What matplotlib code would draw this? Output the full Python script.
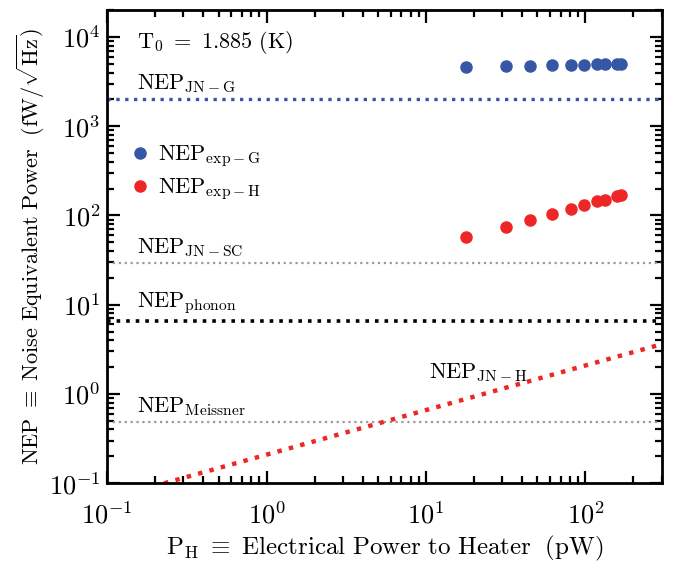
import numpy as np
from matplotlib import pyplot as plt
from matplotlib import transforms

plt.rcParams['mathtext.fontset'] = 'cm'
plt.rcParams['font.family'] = 'serif'
plt.rcParams['font.serif'] = ['cmr10', 'DejaVu Serif']
plt.rcParams['axes.formatter.use_mathtext'] = True

# heater power (pW) and measured NEP (fW/sqrt(Hz))
potencia = [17.9, 31.6, 44.9, 61.8, 81.5, 98.6, 119, 132, 157, 167]
nepG = [4650, 4700, 4750, 4800, 4850, 4880, 4950, 4970, 5000, 5000]
nepH = [57, 75, 89, 104, 119, 131, 144, 150, 164, 170]

# constant noise levels
nepJNG = 2000
nepJNSC = 29
nepPhonon = 6.5
nepMeissner = 0.48

# Johnson noise of the heater (straight line on log-log)
potenciaJNH = [0.1, 300]
nepJNH = [0.066, 3.6]

azul = '#3656a6'
vermelho = '#ee2626'
cinza = '#9a9a9a'

fig = plt.figure(figsize=(6.75, 5.65), dpi=100)
ax = fig.add_axes([0.159, 0.145, 0.821, 0.837])

ax.axhline(nepJNG, color=azul, ls=':', lw=2.4)
ax.axhline(nepJNSC, color=cinza, ls=':', lw=1.6)
ax.axhline(nepPhonon, color='black', ls=':', lw=2.6)
ax.axhline(nepMeissner, color=cinza, ls=':', lw=1.6)
ax.plot(potenciaJNH, nepJNH, color=vermelho, ls=':', lw=3.2)

ax.plot(potencia, nepG, 'o', color=azul, ms=8, label=r'$\mathrm{NEP_{exp-G}}$')
ax.plot(potencia, nepH, 'o', color=vermelho, ms=8, label=r'$\mathrm{NEP_{exp-H}}$')

ax.set_xscale('log')
ax.set_yscale('log')
ax.set_xlim(0.1, 300)
ax.set_ylim(0.1, 2e4)

trans = transforms.blended_transform_factory(ax.transAxes, ax.transData)
fs = 16
ax.text(0.054, nepJNG * 1.12, r'$\mathrm{NEP_{JN-G}}$', transform=trans, fontsize=fs, va='bottom')
ax.text(0.054, nepJNSC * 1.12, r'$\mathrm{NEP_{JN-SC}}$', transform=trans, fontsize=fs, va='bottom')
ax.text(0.054, nepPhonon * 1.12, r'$\mathrm{NEP_{phonon}}$', transform=trans, fontsize=fs, va='bottom')
ax.text(0.054, nepMeissner * 1.12, r'$\mathrm{NEP_{Meissner}}$', transform=trans, fontsize=fs, va='bottom')
ax.text(10.5, 1.75, r'$\mathrm{NEP_{JN-H}}$', fontsize=fs, va='center')
ax.text(0.054, 0.932, r'$\mathrm{T_0}\ =\ 1.885\ \mathrm{(K)}$', transform=ax.transAxes,
        fontsize=fs, va='center')

ax.legend(loc='upper left', bbox_to_anchor=(0.0, 0.75), frameon=False, fontsize=fs,
          handletextpad=0.1, borderaxespad=0.3, labelspacing=0.3, handlelength=1.5)

ax.set_xlabel(r'$\mathrm{P_H}\ \equiv\ \mathrm{Electrical\ Power\ to\ Heater}\ \ \mathrm{(pW)}$', fontsize=18)
ax.set_ylabel(r'$\mathrm{NEP}\ \equiv\ \mathrm{Noise\ Equivalent\ Power}\ \ \mathrm{(fW/\sqrt{Hz})}$', fontsize=16)
ax.yaxis.set_label_coords(-0.108, 0.5)
ax.xaxis.set_label_coords(0.5, -0.108)

for lado in ax.spines.values():
    lado.set_linewidth(2)
ax.tick_params(which='both', direction='in', top=True, right=True, labelsize=19, width=1.6)
ax.tick_params(which='major', length=9)
ax.tick_params(which='minor', length=5)
ax.tick_params(axis='x', which='major', pad=13)
ax.tick_params(axis='y', which='major', pad=5)

fig.savefig('out.png', dpi=100)
